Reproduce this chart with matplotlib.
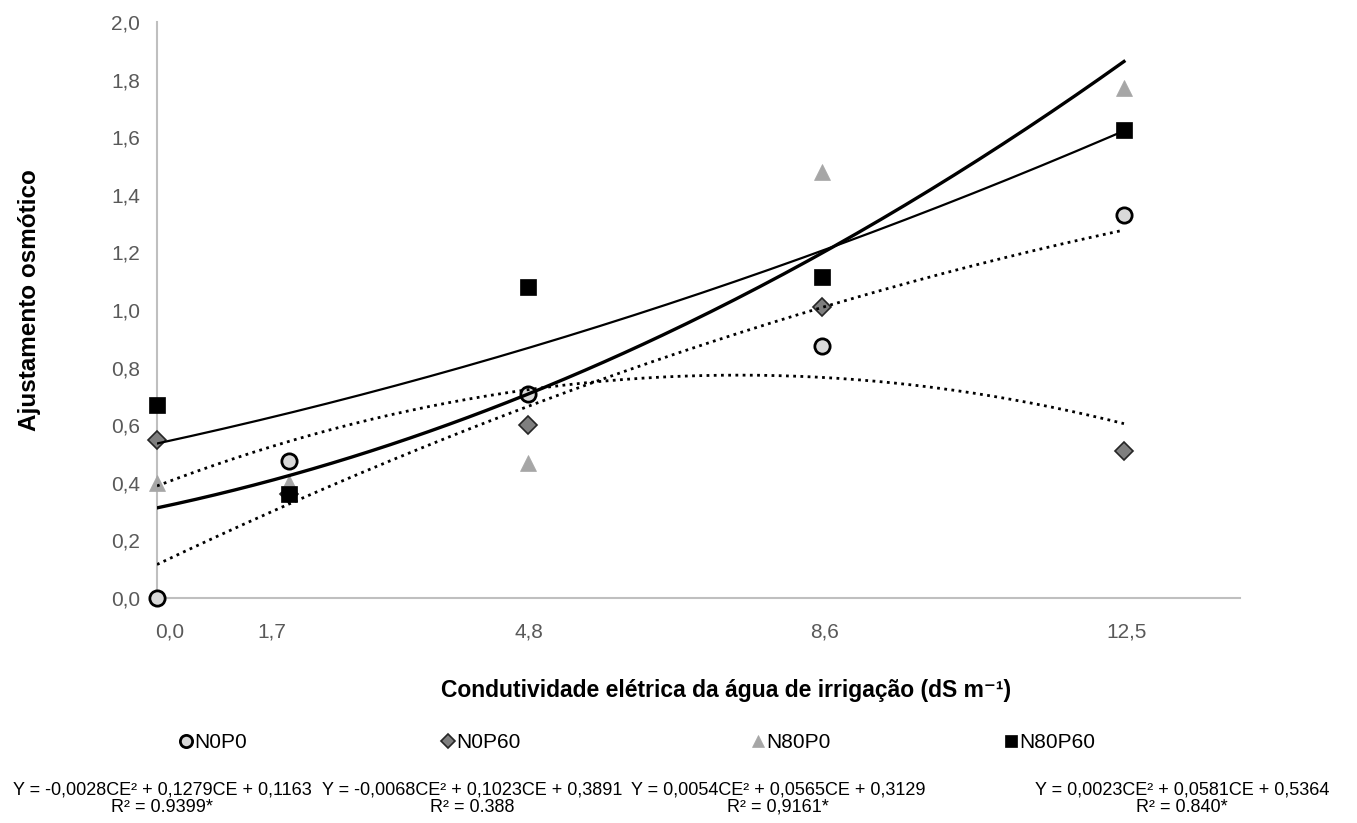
import numpy as np
import matplotlib
matplotlib.use("Agg")
import matplotlib.pyplot as plt
import matplotlib.transforms as mtransforms
from matplotlib.lines import Line2D

plt.rcParams['font.family'] = ['Liberation Sans', 'DejaVu Sans']

# ---- data ----
ce = [0.0, 1.7, 4.8, 8.6, 12.5]
tick_labels = ["0,0", "1,7", "4,8", "8,6", "12,5"]
series_names = ["N0P0", "N0P60", "N80P0", "N80P60"]
n0p0 = [0.00, 0.475, 0.71, 0.875, 1.33]
n0p60 = [0.55, 0.36, 0.60, 1.01, 0.51]
n80p0 = [0.40, 0.40, 0.47, 1.48, 1.77]
n80p60 = [0.67, 0.36, 1.08, 1.115, 1.625]
# trendline coefficients (a*CE^2 + b*CE + c) as printed
coef_n0p0 = [-0.0028, 0.1279, 0.1163]
coef_n0p60 = [-0.0068, 0.1023, 0.3891]
coef_n80p0 = [0.0054, 0.0565, 0.3129]
coef_n80p60 = [0.0023, 0.0581, 0.5364]
equations = ["Y = -0,0028CE² + 0,1279CE + 0,1163",
             "Y = -0,0068CE² + 0,1023CE + 0,3891",
             "Y = 0,0054CE² + 0,0565CE + 0,3129",
             "Y = 0,0023CE² + 0,0581CE + 0,5364"]
r2_labels = ["R² = 0.9399*", "R² = 0.388", "R² = 0,9161*", "R² = 0.840*"]
yticks = [0.0, 0.2, 0.4, 0.6, 0.8, 1.0, 1.2, 1.4, 1.6, 1.8, 2.0]
ytick_labels = ["0,0", "0,2", "0,4", "0,6", "0,8", "1,0", "1,2", "1,4", "1,6", "1,8", "2,0"]

W, H = 1357, 823
fig = plt.figure(figsize=(W / 100, H / 100), dpi=100)
ax = fig.add_axes([157 / W, 1 - 598 / H, (1240 - 157) / W, (598 - 22) / H])

styles = [
    dict(marker='o', ms=11, mfc='#d9d9d9', mec='black', mew=2.0),
    dict(marker='D', ms=9, mfc='#7f7f7f', mec='#262626', mew=1.2),
    dict(marker='^', ms=11.5, mfc='#a6a6a6', mec='#a6a6a6', mew=0.5),
    dict(marker='s', ms=11.5, mfc='black', mec='black', mew=0.5),
]
data = [n0p0, n0p60, n80p0, n80p60]
for vals, st in zip(data, styles):
    ax.plot(ce, vals, linestyle='none', clip_on=False, zorder=3, **st)

xs = np.linspace(ce[0], ce[-1], 200)
line_styles = [
    dict(color='black', lw=2.0, linestyle=(0, (1, 1.6)), dash_capstyle='butt'),
    dict(color='black', lw=2.0, linestyle=(0, (1, 1.6)), dash_capstyle='butt'),
    dict(color='black', lw=2.4, linestyle='-'),
    dict(color='black', lw=1.6, linestyle='-'),
]
for coef, ls in zip([coef_n0p0, coef_n0p60, coef_n80p0, coef_n80p60], line_styles):
    ax.plot(xs, np.polyval(coef, xs), zorder=4, **ls)

ax.set_xlim(0, 14)
ax.set_ylim(0, 2.0)
ax.set_xticks(ce)
ax.set_xticklabels(tick_labels)
ax.set_yticks(yticks)
ax.set_yticklabels(ytick_labels)
ax.tick_params(axis='both', length=0, labelsize=15, labelcolor='#595959')
ax.tick_params(axis='x', pad=18)
ax.tick_params(axis='y', pad=12)
# small horizontal nudges of the first category labels, as in the original
label_shift_px = [13, -17, 1, 2, 3]
for lab, dx in zip(ax.get_xticklabels(), label_shift_px):
    lab.set_transform(lab.get_transform() +
                      mtransforms.ScaledTranslation(dx / 100, 0, fig.dpi_scale_trans))
for s in ['top', 'right']:
    ax.spines[s].set_visible(False)
for s in ['left', 'bottom']:
    ax.spines[s].set_color('#bfbfbf')
    ax.spines[s].set_linewidth(1.5)

fig.text(30 / W, 1 - 300 / H, "Ajustamento osmótico", rotation=90, ha='center', va='center',
         fontsize=17.5, fontweight='bold')
fig.text(726 / W, 1 - 690 / H, "Condutividade elétrica da água de irrigação (dS m⁻¹)",
         ha='center', va='center', fontsize=16.5, fontweight='bold')

# legend entries
leg_x = [190, 452, 762, 1015]
for name, st, x in zip(series_names, styles, leg_x):
    h = Line2D([], [], linestyle='none', marker=st['marker'], ms=st['ms'] * 0.8,
               mfc=st['mfc'], mec=st['mec'], mew=st['mew'])
    fig.legend([h], [name], loc='center left', bbox_to_anchor=((x - 10) / W, 1 - 743 / H),
               frameon=False, fontsize=15, handlelength=0.6, handletextpad=0.1,
               borderpad=0, borderaxespad=0)

eq_x = [162, 472, 778, 1182]
for eq, r2, x in zip(equations, r2_labels, eq_x):
    fig.text(x / W, 1 - 790 / H, eq, ha='center', va='center', fontsize=13)
    fig.text(x / W, 1 - 807 / H, r2, ha='center', va='center', fontsize=13)

fig.savefig("out.png", dpi=100)
